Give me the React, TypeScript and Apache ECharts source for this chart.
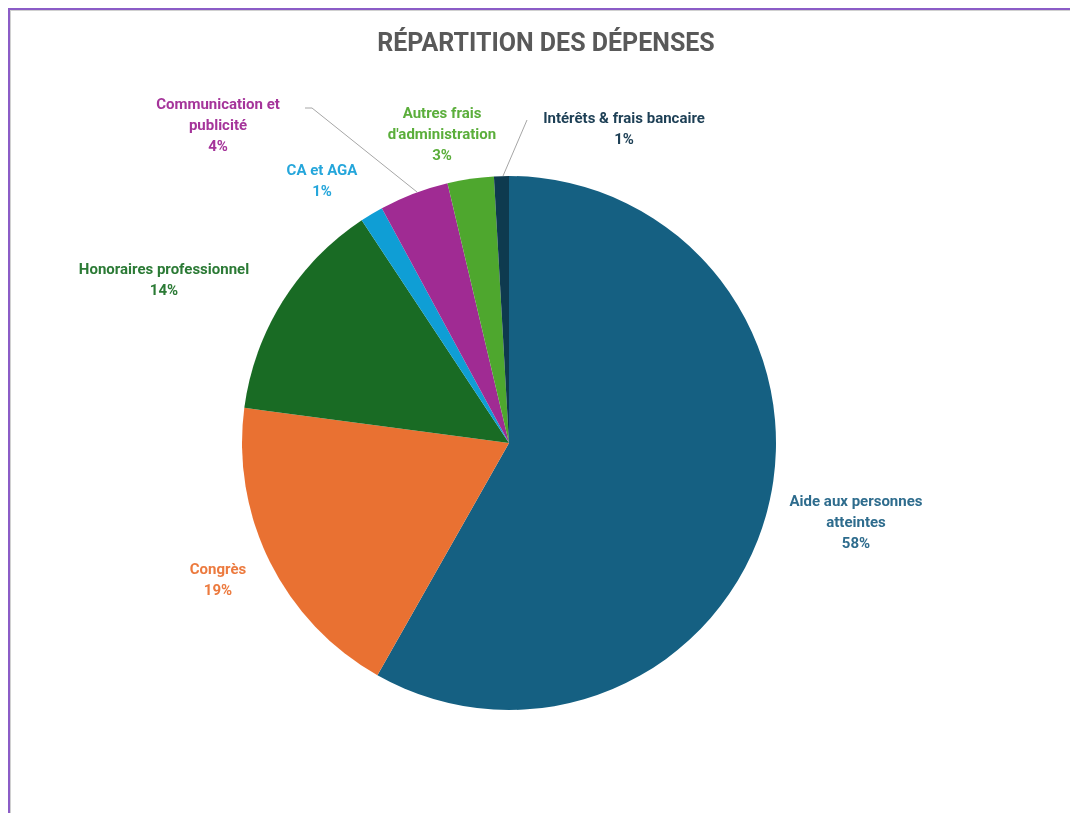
import React, { useEffect, useRef } from "react";
import * as echarts from "echarts";

const categories = [
  "Aide aux personnes\natteintes",
  "Congrès",
  "Honoraires professionnel",
  "CA et AGA",
  "Communication et\npublicité",
  "Autres frais\nd'administration",
  "Intérêts & frais bancaire",
];
const values = [58.2, 18.9, 13.6, 1.4, 4.2, 2.8, 0.9];
const sliceColors = ["#156082", "#E97132", "#196B24", "#0F9ED5", "#A02B93", "#4EA72E", "#0E3A4F"];
const labelColors = ["#2E6C8D", "#EC7A3E", "#2B7A35", "#25A6DB", "#A5349A", "#5BAE3B", "#1D3F55"];

const labelPos: [number, number][] = [
  [846, 512],
  [208, 569],
  [154, 269],
  [312, 170],
  [208, 115],
  [432, 124],
  [614, 118],
];
const linePts: Record<number, [number, number][]> = {
  4: [[407, 182], [302, 98], [295, 98]],
  6: [[493, 166], [517, 110], [517, 110]],
};

export default function App() {
  const ref = useRef<HTMLDivElement>(null);
  useEffect(() => {
    if (!ref.current) return;
    const chart = echarts.init(ref.current, undefined, { renderer: "svg" });
    const font = "Roboto, 'Liberation Sans Narrow', sans-serif";
    chart.setOption({
      animation: false,
      title: {
        text: "RÉPARTITION DES DÉPENSES",
        left: 531,
        textAlign: "center",
        top: 15,
        textStyle: { fontFamily: "Roboto, sans-serif", fontSize: 25, fontWeight: "bold", color: "#595959" },
      },
      series: [
        {
          type: "pie",
          center: [499, 433],
          radius: 267,
          startAngle: 90,
          clockwise: true,
          avoidLabelOverlap: false,
          itemStyle: { borderWidth: 0 },
          label: {
            show: true,
            position: "outside",
            fontFamily: font,
            fontSize: 15,
            fontWeight: "bold",
            lineHeight: 21,
            align: "center",
            formatter: (p: any) => `${p.name}\n${Math.round(p.percent)}%`,
          },
          labelLine: { show: true, lineStyle: { color: "#A6A6A6", width: 1 } },
          labelLayout: (p: any) => {
            const i = p.dataIndex;
            const res: any = {
              x: labelPos[i][0],
              y: labelPos[i][1],
              align: "center",
              verticalAlign: "middle",
            };
            if (linePts[i]) res.labelLinePoints = linePts[i];
            return res;
          },
          data: categories.map((name, i) => ({
            name,
            value: values[i],
            itemStyle: { color: sliceColors[i] },
            label: { color: labelColors[i] },
            labelLine: { show: !!linePts[i] },
          })),
        },
      ],
    });
    return () => chart.dispose();
  }, []);
  return (
    <div
      style={{
        position: "fixed",
        left: 8,
        top: 8,
        width: 1100,
        height: 900,
        boxSizing: "border-box",
        borderTop: "2px solid #8B5CC7",
        borderLeft: "2px solid #8B5CC7",
        boxShadow: "inset 1px 1px 0 #D0D0D0",
        overflow: "hidden",
      }}
    >
      <div ref={ref} style={{ width: 1060, height: 803 }} />
    </div>
  );
}
